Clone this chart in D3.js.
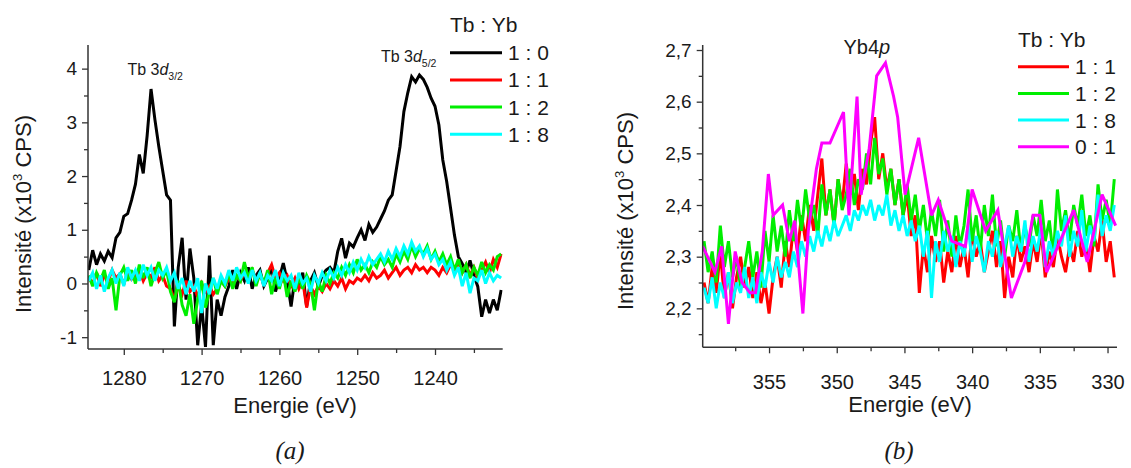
<!DOCTYPE html>
<html>
<head>
<meta charset="utf-8">
<script src="https://cdn.jsdelivr.net/npm/d3@7"></script>
<style>
  html, body { margin: 0; padding: 0; background: #fff; }
  svg text { font-family: "Liberation Sans", Arial, sans-serif; fill: #1a1a1a; }
</style>
</head>
<body>
<svg id="chart" width="1131" height="468"></svg>
<script>
// ---------------- DATA ----------------
// Panel (a): Tb 3d region, energy grid 1284.5 -> 1231.5 eV, step 0.5 eV
const leftStart = 1284.5, leftStep = -0.5;
const tb10 = [0.25,0.62,0.35,0.55,0.42,0.60,0.48,0.85,0.95,1.25,1.30,1.55,1.85,2.40,2.05,2.75,3.62,3.05,2.55,2.10,1.65,
  1.55,-0.80,0.30,0.85,-0.30,0.65,0.10,-1.15,-0.40,-1.18,
  0.52,-1.15,-0.30,-0.60,-0.25,-0.05,0.25,-0.10,0.20,0.05,
  0.30,-0.10,0.15,0.25,-0.05,0.10,0.30,-0.15,0.10,0.38,
  0.05,-0.43,0.10,-0.05,0.20,-0.43,0.05,0.20,-0.06,0.15,
  0.25,0.30,0.20,0.60,0.84,0.47,0.75,0.68,0.85,1.00,
  0.80,1.10,0.95,1.05,1.20,1.35,1.55,1.65,2.10,2.55,
  3.20,3.55,3.85,3.75,3.88,3.80,3.65,3.45,3.30,2.95,
  2.30,1.90,1.40,0.90,0.50,0.37,0.20,0.43,0.15,-0.06,
  -0.62,-0.30,-0.55,-0.30,-0.50,-0.12];
const tb11 = [0.10,0.00,0.20,-0.05,0.15,0.05,0.25,0.10,0.18,-0.02,0.22,0.08,0.15,0.25,0.05,0.20,0.12,0.30,0.05,0.15,-0.05,
  -0.10,-0.30,-0.05,-0.20,0.05,-0.15,-0.05,-0.25,0.00,-0.15,
  -0.05,-0.20,-0.10,0.05,-0.05,0.10,0.00,0.15,0.05,0.20,
  0.10,0.25,0.05,0.15,0.00,0.20,0.35,0.10,0.20,0.05,
  0.15,-0.05,0.10,-0.10,0.05,-0.45,-0.05,-0.20,-0.05,-0.15,
  0.00,-0.10,0.05,-0.05,0.10,-0.10,0.05,0.00,0.10,0.05,
  0.15,0.05,0.20,0.10,0.15,0.25,0.10,0.20,0.30,0.15,
  0.25,0.30,0.20,0.35,0.25,0.30,0.20,0.30,0.25,0.15,
  0.30,0.20,0.35,0.25,0.40,0.20,0.35,0.15,0.30,0.10,
  0.25,0.40,0.20,0.45,0.30,0.55];
const tb12 = [0.15,-0.05,0.20,0.05,0.25,-0.10,0.10,-0.50,0.15,0.30,0.05,0.25,0.00,0.35,0.10,0.30,-0.05,0.20,0.40,0.10,0.25,
  -0.15,-0.35,0.05,-0.40,-0.60,-0.20,-0.75,-0.30,0.05,-0.45,
  -0.15,0.10,-0.20,0.05,-0.05,0.20,-0.10,0.15,0.05,0.40,
  0.10,0.30,-0.05,0.20,0.00,0.25,-0.20,0.10,-0.10,0.20,
  -0.25,0.05,-0.15,0.10,-0.10,0.15,0.00,-0.50,0.05,-0.15,
  0.15,0.00,0.20,0.10,0.30,0.15,0.35,0.20,0.45,0.25,
  0.35,0.20,0.40,0.30,0.50,0.35,0.45,0.30,0.55,0.40,
  0.60,0.45,0.70,0.50,0.65,0.55,0.70,0.45,0.60,0.40,
  0.55,0.35,0.50,0.25,0.45,0.20,0.35,0.10,0.30,0.15,
  0.40,0.20,0.35,0.25,0.50,0.55];
const tb18 = [0.05,0.20,-0.10,0.15,-0.15,0.10,0.25,0.00,0.20,-0.05,0.30,0.10,0.25,0.05,0.35,0.15,0.30,0.05,0.25,0.15,0.30,
  0.05,0.20,-0.10,0.10,-0.20,0.05,-0.15,0.10,-0.55,0.00,
  -0.20,0.10,-0.10,0.15,0.00,0.25,0.05,0.30,0.10,0.20,
  0.00,0.25,0.05,0.20,-0.05,0.15,0.05,0.25,-0.05,0.20,
  0.05,0.15,-0.10,0.20,0.00,0.10,-0.15,0.15,0.00,0.20,
  0.05,0.25,0.10,0.30,0.15,0.35,0.20,0.40,0.25,0.45,
  0.30,0.50,0.35,0.45,0.55,0.40,0.60,0.45,0.65,0.50,
  0.70,0.55,0.77,0.60,0.70,0.50,0.65,0.45,0.55,0.35,
  0.45,0.25,0.40,0.15,0.30,-0.05,0.20,-0.18,0.10,0.05,
  0.25,0.00,0.20,0.05,0.15,0.10];
const leftNames = ["1 : 0", "1 : 1", "1 : 2", "1 : 8"];
const leftXTicks = [1280, 1270, 1260, 1250, 1240];
const leftYTicks = [-1, 0, 1, 2, 3, 4];

// Panel (b): Yb 4p region, energy grid 359.8 -> 329.5 eV, step 0.3 eV
const rightStart = 359.8, rightStep = -0.3;
const yb11 = [2.25,2.21,2.28,2.23,2.31,2.22,2.27,2.20,2.26,2.30,
  2.24,2.28,2.22,2.27,2.21,2.25,2.19,2.26,2.30,2.24,
  2.33,2.28,2.36,2.31,2.38,2.33,2.40,2.35,2.42,2.49,
  2.38,2.43,2.36,2.45,2.40,2.48,2.42,2.46,2.39,2.47,
  2.44,2.52,2.57,2.45,2.50,2.43,2.47,2.40,2.45,2.38,
  2.42,2.34,2.38,2.23,2.32,2.27,2.34,2.29,2.33,2.25,
  2.31,2.27,2.34,2.28,2.32,2.26,2.35,2.30,2.33,2.27,
  2.31,2.35,2.28,2.33,2.22,2.30,2.26,2.34,2.29,2.32,
  2.27,2.33,2.29,2.35,2.26,2.31,2.28,2.34,2.30,2.27,
  2.32,2.29,2.35,2.30,2.33,2.27,2.34,2.31,2.37,2.29,
  2.33,2.26];
const yb12 = [2.33,2.27,2.31,2.25,2.36,2.28,2.33,2.26,2.30,2.24,
  2.28,2.33,2.26,2.31,2.24,2.35,2.29,2.38,2.31,2.36,
  2.30,2.39,2.33,2.41,2.35,2.43,2.37,2.40,2.34,2.44,
  2.38,2.43,2.36,2.45,2.39,2.42,2.47,2.40,2.45,2.43,
  2.50,2.44,2.53,2.46,2.49,2.42,2.47,2.40,2.45,2.38,
  2.44,2.37,2.42,2.35,2.40,2.33,2.39,2.34,2.41,2.31,
  2.37,2.30,2.38,2.32,2.36,2.43,2.33,2.38,2.31,2.40,
  2.34,2.42,2.32,2.37,2.30,2.36,2.33,2.39,2.31,2.36,
  2.32,2.38,2.34,2.41,2.33,2.37,2.30,2.43,2.35,2.39,
  2.33,2.40,2.36,2.42,2.34,2.38,2.32,2.44,2.37,2.41,
  2.36,2.45];
const yb18 = [2.24,2.21,2.26,2.20,2.25,2.22,2.27,2.21,2.25,2.23,
  2.28,2.22,2.26,2.21,2.27,2.24,2.29,2.25,2.30,2.26,
  2.29,2.26,2.31,2.28,2.33,2.30,2.34,2.31,2.35,2.32,
  2.36,2.33,2.37,2.34,2.36,2.38,2.35,2.39,2.37,2.40,
  2.38,2.41,2.37,2.40,2.38,2.42,2.36,2.39,2.35,2.38,
  2.34,2.37,2.33,2.36,2.30,2.35,2.22,2.33,2.29,2.35,
  2.31,2.34,2.28,2.33,2.30,2.36,2.29,2.34,2.31,2.27,
  2.33,2.30,2.35,2.28,2.32,2.36,2.30,2.34,2.31,2.37,
  2.29,2.34,2.31,2.36,2.28,2.33,2.30,2.35,2.32,2.38,
  2.30,2.35,2.32,2.39,2.31,2.36,2.33,2.42,2.34,2.38,
  2.35,2.40];
// 0:1 sample, coarser sampling
const yb01Energy = [359.9,359.0,358.5,358.0,357.5,357.0,356.4,356.0,355.5,355.05,354.7,354.0,353.5,353.1,352.5,352.1,351.5,351.1,350.5,349.5,349.1,348.5,348.2,347.6,347.05,346.4,345.8,345.5,344.95,343.95,343.0,342.5,341.5,340.5,340.0,339.0,338.1,337.1,336.1,335.5,335.0,334.5,333.5,332.5,331.5,330.4,329.4];
const yb01 = [2.32,2.27,2.32,2.17,2.31,2.25,2.23,2.23,2.31,2.46,2.38,2.40,2.33,2.37,2.19,2.35,2.47,2.52,2.52,2.58,2.38,2.61,2.42,2.51,2.65,2.675,2.61,2.57,2.42,2.53,2.38,2.41,2.33,2.32,2.43,2.35,2.39,2.22,2.29,2.38,2.38,2.27,2.33,2.39,2.29,2.42,2.36];
const rightNames = ["1 : 1", "1 : 2", "1 : 8", "0 : 1"];
const rightXTicks = [355, 350, 345, 340, 335, 330];
const rightYTicks = [2.2, 2.3, 2.4, 2.5, 2.6, 2.7];

// ---------------- DRAWING ----------------
const svg = d3.select("#chart");
const C = { black: "#000000", red: "#ff0000", green: "#00ee00", cyan: "#00ffff", magenta: "#ff00ff" };
const axisColor = "#333";

function grid(start, step, vals) { return vals.map((v, i) => [start + i * step, v]); }

function drawPanel(cfg) {
  const x = d3.scaleLinear().domain(cfg.xDomain).range(cfg.xRange);
  const y = d3.scaleLinear().domain(cfg.yDomain).range(cfg.yRange);
  const g = svg.append("g");
  const clipId = "clip" + cfg.id;
  svg.append("clipPath").attr("id", clipId).append("rect")
    .attr("x", cfg.xRange[0]).attr("y", cfg.yRange[1] - 2)
    .attr("width", cfg.xRange[1] - cfg.xRange[0]).attr("height", cfg.yRange[0] - cfg.yRange[1] + 2);

  const line = d3.line().x(d => x(d[0])).y(d => y(d[1]));
  const dg = g.append("g").attr("clip-path", `url(#${clipId})`);
  cfg.series.forEach(s => {
    dg.append("path").datum(s.data).attr("d", line)
      .attr("fill", "none").attr("stroke", s.color)
      .attr("stroke-width", s.width || 3).attr("stroke-linejoin", "miter").attr("stroke-miterlimit", 3);
  });

  const xAxis = d3.axisBottom(x).tickValues(cfg.xTicks).tickSize(6).tickPadding(cfg.xPad).tickFormat(cfg.xFmt);
  const yAxis = d3.axisLeft(y).tickValues(cfg.yTicks).tickSize(6).tickPadding(5).tickFormat(cfg.yFmt);
  const xa = g.append("g").attr("transform", `translate(0,${cfg.yRange[0]})`).call(xAxis);
  const ya = g.append("g").attr("transform", `translate(${cfg.xRange[0]},0)`).call(yAxis);
  g.append("g").attr("transform", `translate(0,${cfg.yRange[0]})`)
    .call(d3.axisBottom(x).tickValues(cfg.xMinor).tickSize(4).tickFormat(""));
  g.append("g").attr("transform", `translate(${cfg.xRange[0]},0)`)
    .call(d3.axisLeft(y).tickValues(cfg.yMinor).tickSize(4).tickFormat(""));
  g.selectAll(".tick line").attr("stroke", axisColor).attr("stroke-width", 1.3);
  xa.selectAll("text").attr("font-size", 20).attr("fill", "#1a1a1a").attr("font-family", "Liberation Sans, Arial");
  ya.selectAll("text").attr("font-size", 19).attr("fill", "#1a1a1a").attr("font-family", "Liberation Sans, Arial");
  g.selectAll(".domain").remove();
  g.append("line").attr("x1", cfg.xRange[0]).attr("x2", cfg.xRange[1])
    .attr("y1", cfg.yRange[0]).attr("y2", cfg.yRange[0]).attr("stroke", axisColor).attr("stroke-width", 1.5);
  g.append("line").attr("x1", cfg.xRange[0]).attr("x2", cfg.xRange[0])
    .attr("y1", cfg.yRange[1]).attr("y2", cfg.yRange[0]).attr("stroke", axisColor).attr("stroke-width", 1.5);

  g.append("text").attr("x", cfg.xTitlePos[0]).attr("y", cfg.xTitlePos[1])
    .attr("text-anchor", "middle").attr("font-size", 22).text("Energie (eV)");
  const yt = g.append("text").attr("transform", `translate(${cfg.yTitlePos[0]},${cfg.yTitlePos[1]}) rotate(-90)`)
    .attr("text-anchor", "middle").attr("font-size", 22);
  yt.append("tspan").text("Intensité (x10");
  yt.append("tspan").attr("font-size", 13).attr("dy", -9).text("3");
  yt.append("tspan").attr("dy", 9).text(" CPS)");

  const lg = g.append("g");
  lg.append("text").attr("x", cfg.legend.x).attr("y", cfg.legend.titleY).attr("font-size", 21).text("Tb : Yb");
  cfg.series.forEach((s, i) => {
    const yy = cfg.legend.y0 + i * cfg.legend.dy;
    lg.append("line").attr("x1", cfg.legend.x).attr("x2", cfg.legend.x + cfg.legend.len)
      .attr("y1", yy).attr("y2", yy).attr("stroke", s.color).attr("stroke-width", 3);
    lg.append("text").attr("x", cfg.legend.x + cfg.legend.len + 6).attr("y", yy + 7.5)
      .attr("font-size", 21).text(s.name);
  });
  return { x, y, g };
}

const left = drawPanel({
  id: "a",
  xDomain: [1284.6, 1231.3], xRange: [88, 502.7],
  yDomain: [-1.22, 4.44], yRange: [349, 45],
  xTicks: leftXTicks, xMinor: [1275, 1265, 1255, 1245, 1235],
  yTicks: leftYTicks, yMinor: [-0.5, 0.5, 1.5, 2.5, 3.5],
  xFmt: d3.format("d"), yFmt: d => String(d).replace("−", "-"),
  xPad: 16,
  xTitlePos: [295, 413], yTitlePos: [31, 214],
  legend: { x: 450, titleY: 32, y0: 52.7, dy: 27.2, len: 52 },
  series: [
    { name: leftNames[0], color: C.black, data: grid(leftStart, leftStep, tb10) },
    { name: leftNames[1], color: C.red, data: grid(leftStart, leftStep, tb11) },
    { name: leftNames[2], color: C.green, data: grid(leftStart, leftStep, tb12) },
    { name: leftNames[3], color: C.cyan, data: grid(leftStart, leftStep, tb18) }
  ]
});

const right = drawPanel({
  id: "b",
  xDomain: [359.9, 329.3], xRange: [702.7, 1117],
  yDomain: [2.1246, 2.7097], yRange: [347.3, 45],
  xTicks: rightXTicks, xMinor: [357.5, 352.5, 347.5, 342.5, 337.5, 332.5],
  yTicks: rightYTicks, yMinor: [2.15, 2.25, 2.35, 2.45, 2.55, 2.65],
  xFmt: d3.format("d"), yFmt: d => d3.format(".1f")(d).replace(".", ","),
  xPad: 22,
  xTitlePos: [910, 412], yTitlePos: [633, 211],
  legend: { x: 1018, titleY: 46.7, y0: 66.7, dy: 26.7, len: 51 },
  series: [
    { name: rightNames[0], color: C.red, data: grid(rightStart, rightStep, yb11) },
    { name: rightNames[1], color: C.green, data: grid(rightStart, rightStep, yb12) },
    { name: rightNames[2], color: C.cyan, data: grid(rightStart, rightStep, yb18) },
    { name: rightNames[3], color: C.magenta, width: 3, data: yb01Energy.map((e, i) => [e, yb01[i]]) }
  ]
});

// peak annotations
function annot(g, xx, yy, sub, size) {
  const t = g.append("text").attr("x", xx).attr("y", yy).attr("font-size", size).attr("fill", "#222");
  t.append("tspan").text("Tb 3");
  t.append("tspan").attr("font-style", "italic").text("d");
  t.append("tspan").attr("font-size", 10.5).attr("dy", 5).text(sub);
}
annot(left.g, left.x(1279.53), 75, "3/2", 16);
annot(left.g, left.x(1246.95), 62, "5/2", 16);
const yb = right.g.append("text").attr("x", right.x(349.5)).attr("y", 53.5).attr("font-size", 20);
yb.append("tspan").text("Yb4");
yb.append("tspan").attr("font-style", "italic").text("p");

// captions
svg.append("text").attr("x", 290).attr("y", 459).attr("text-anchor", "middle")
  .attr("font-style", "italic").attr("font-size", 25).style("font-family", "Liberation Serif, serif").text("(a)");
svg.append("text").attr("x", 899).attr("y", 459).attr("text-anchor", "middle")
  .attr("font-style", "italic").attr("font-size", 25).style("font-family", "Liberation Serif, serif").text("(b)");
</script>
</body>
</html>
